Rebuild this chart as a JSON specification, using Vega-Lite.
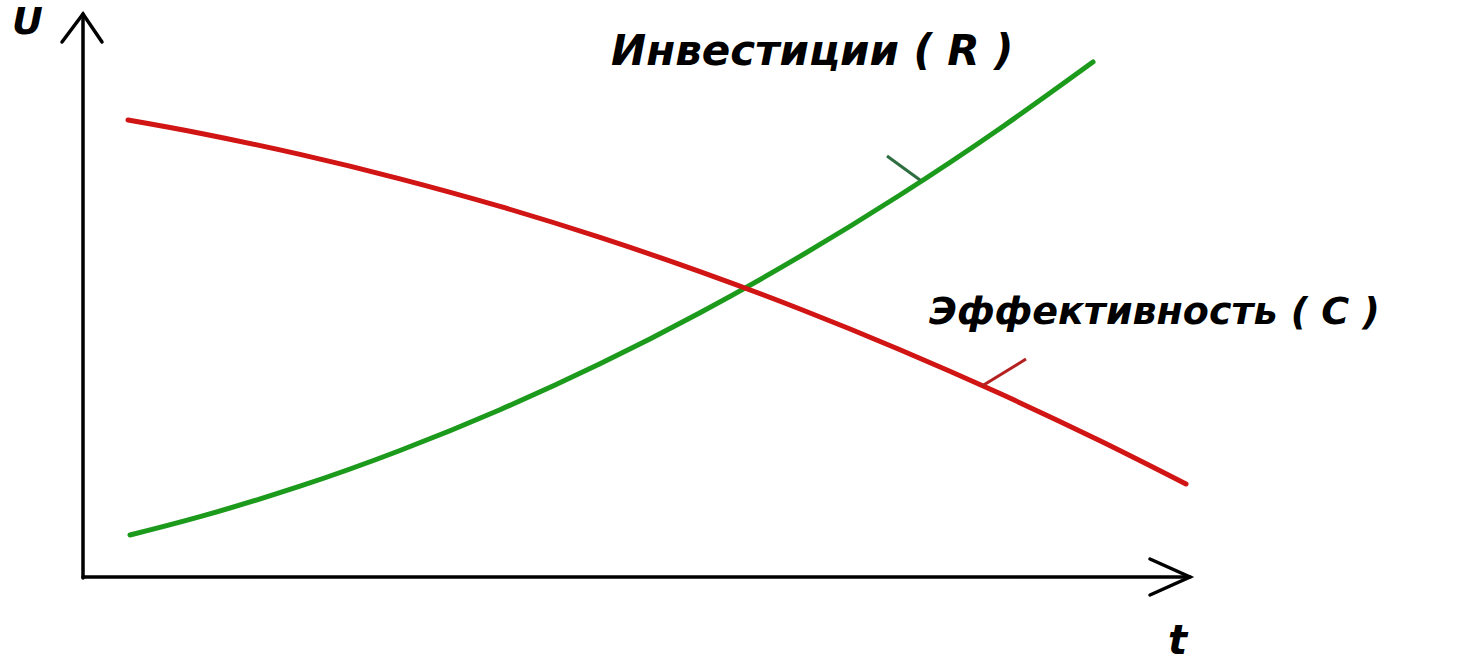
{
  "$schema": "https://vega.github.io/schema/vega-lite/v6.json",
  "width": 1464,
  "height": 666,
  "autosize": "none",
  "padding": 0,
  "background": "white",
  "config": {"view": {"stroke": null}},
  "datasets": {
    "axes": [
      {"seg": "yaxis", "o": 1, "x": 83, "y": 578},
      {"seg": "yaxis", "o": 2, "x": 83, "y": 14},
      {"seg": "yarrow", "o": 1, "x": 62, "y": 42},
      {"seg": "yarrow", "o": 2, "x": 83, "y": 14},
      {"seg": "yarrow", "o": 3, "x": 102, "y": 42},
      {"seg": "xaxis", "o": 1, "x": 83, "y": 577},
      {"seg": "xaxis", "o": 2, "x": 1190, "y": 577},
      {"seg": "xarrow", "o": 1, "x": 1150, "y": 559},
      {"seg": "xarrow", "o": 2, "x": 1190, "y": 577},
      {"seg": "xarrow", "o": 3, "x": 1150, "y": 595}
    ],
    "curves": [
      {"series": "R", "x": 130, "y": 535},
      {"series": "R", "x": 200, "y": 516.7},
      {"series": "R", "x": 300, "y": 486.2},
      {"series": "R", "x": 400, "y": 450.5},
      {"series": "R", "x": 500, "y": 409.7},
      {"series": "R", "x": 600, "y": 363.8},
      {"series": "R", "x": 700, "y": 312.7},
      {"series": "R", "x": 800, "y": 256.4},
      {"series": "R", "x": 900, "y": 195},
      {"series": "R", "x": 1000, "y": 128.5},
      {"series": "R", "x": 1093, "y": 62},
      {"series": "C", "x": 128, "y": 120},
      {"series": "C", "x": 200, "y": 133.2},
      {"series": "C", "x": 300, "y": 154.4},
      {"series": "C", "x": 400, "y": 178.8},
      {"series": "C", "x": 500, "y": 206.4},
      {"series": "C", "x": 600, "y": 237.4},
      {"series": "C", "x": 700, "y": 271.6},
      {"series": "C", "x": 800, "y": 309},
      {"series": "C", "x": 900, "y": 349.7},
      {"series": "C", "x": 1000, "y": 393.6},
      {"series": "C", "x": 1100, "y": 440.8},
      {"series": "C", "x": 1186, "y": 484}
    ],
    "ticks": [
      {"series": "R", "o": 1, "x": 887, "y": 156},
      {"series": "R", "o": 2, "x": 920, "y": 180},
      {"series": "C", "o": 1, "x": 982, "y": 386},
      {"series": "C", "o": 2, "x": 1026, "y": 359}
    ],
    "labels": [
      {"text": "U", "x": 12, "y": 34, "size": 38},
      {"text": "t", "x": 1168, "y": 654, "size": 40},
      {"text": "Инвестиции ( R )", "x": 611, "y": 65, "size": 42},
      {"text": "Эффективность ( C )", "x": 929, "y": 324, "size": 38}
    ]
  },
  "layer": [
    {
      "data": {"name": "axes"},
      "mark": {"type": "line", "color": "black", "strokeWidth": 3.5, "strokeCap": "round", "strokeJoin": "miter"},
      "encoding": {
        "x": {"field": "x", "type": "quantitative", "scale": {"domain": [0, 1464], "nice": false, "zero": false}, "axis": null},
        "y": {"field": "y", "type": "quantitative", "scale": {"domain": [0, 666], "reverse": true, "nice": false, "zero": false}, "axis": null},
        "detail": {"field": "seg"},
        "order": {"field": "o"}
      }
    },
    {
      "data": {"name": "curves"},
      "mark": {"type": "line", "strokeWidth": 5, "interpolate": "natural", "strokeCap": "round"},
      "encoding": {
        "x": {"field": "x", "type": "quantitative"},
        "y": {"field": "y", "type": "quantitative"},
        "color": {"field": "series", "type": "nominal", "scale": {"domain": ["R", "C"], "range": ["#1c9a1c", "#d11414"]}, "legend": null},
        "order": {"field": "x"}
      }
    },
    {
      "data": {"name": "ticks"},
      "mark": {"type": "line", "strokeWidth": 3},
      "encoding": {
        "x": {"field": "x", "type": "quantitative"},
        "y": {"field": "y", "type": "quantitative"},
        "detail": {"field": "series"},
        "color": {"field": "series", "type": "nominal", "scale": {"domain": ["R", "C"], "range": ["#2f6e40", "#b52020"]}, "legend": null},
        "order": {"field": "o"}
      }
    },
    {
      "data": {"name": "labels"},
      "mark": {"type": "text", "font": "DejaVu Sans", "fontWeight": "bold", "fontStyle": "italic", "align": "left", "baseline": "alphabetic", "color": "black"},
      "encoding": {
        "x": {"field": "x", "type": "quantitative"},
        "y": {"field": "y", "type": "quantitative"},
        "text": {"field": "text"},
        "size": {"field": "size", "type": "quantitative", "scale": null}
      }
    }
  ],
  "resolve": {"scale": {"color": "independent"}}
}
